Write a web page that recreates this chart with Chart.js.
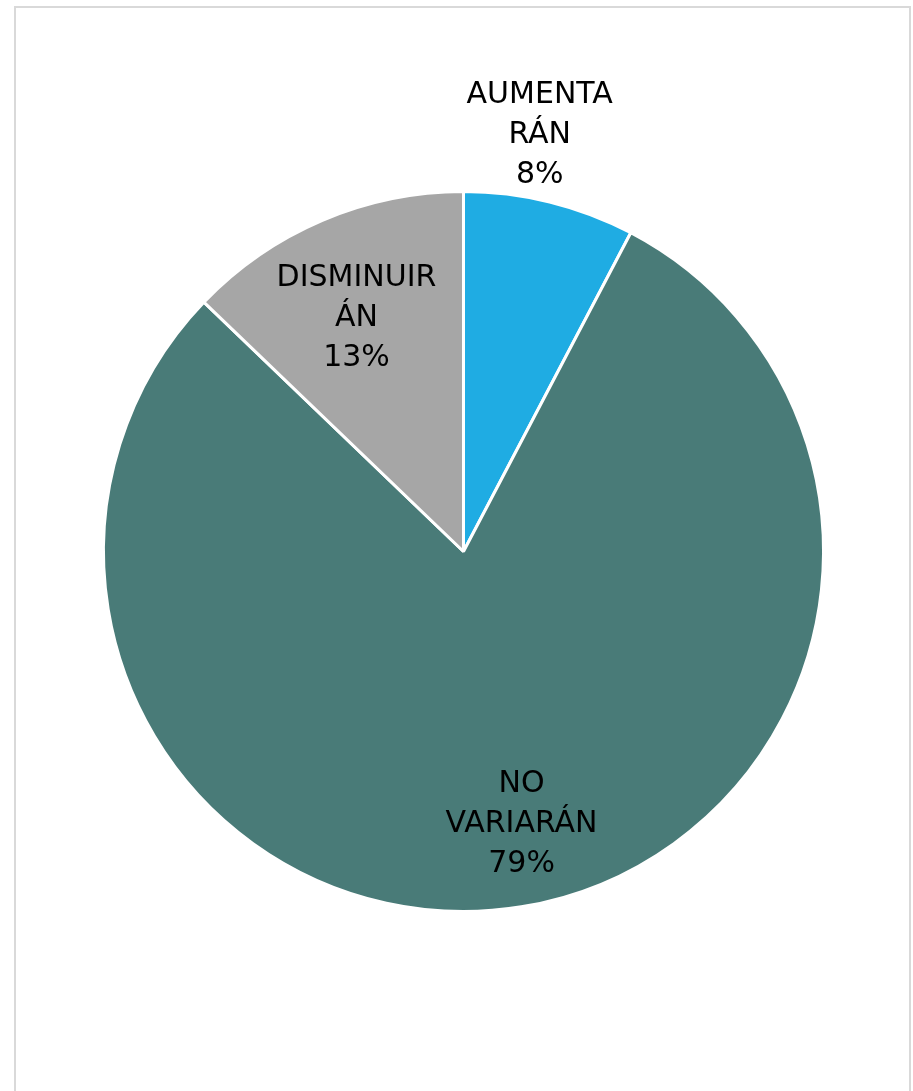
<!DOCTYPE html>
<html>
<head>
<meta charset="utf-8">
<script src="https://cdn.jsdelivr.net/npm/chart.js@4/dist/chart.umd.min.js"></script>
<style>
  html, body { margin: 0; padding: 0; background: #ffffff; }
  #wrap { position: relative; width: 913px; height: 1091px; }
</style>
</head>
<body>
<div id="wrap"><canvas id="c" width="913" height="1091"></canvas></div>
<script>
const categories = ["AUMENTARÁN", "NO VARIARÁN", "DISMINUIRÁN"];
const values = [6, 62, 10];
const labelLines = [["AUMENTA", "RÁN"], ["NO", "VARIARÁN"], ["DISMINUIR", "ÁN"]];
const colors = ["#1FACE3", "#497B78", "#A6A6A6"];

const frame = {
  id: "frame",
  beforeDraw(chart) {
    const ctx = chart.ctx;
    ctx.save();
    ctx.fillStyle = "#ffffff";
    ctx.fillRect(0, 0, chart.width, chart.height);
    ctx.strokeStyle = "#D9D9D9";
    ctx.lineWidth = 2;
    ctx.strokeRect(15, 7, 895, 1100);
    ctx.restore();
  }
};

// label placement: radial factor and pixel offset per slice
const labelPlacement = [
  { r: 1.14, dx: -22, dy: -18 },
  { r: 0.78, dx: 13, dy: -4 },
  { r: 0.73, dx: -4, dy: 8 }
];

const sliceLabels = {
  id: "sliceLabels",
  afterDatasetsDraw(chart) {
    const ctx = chart.ctx;
    const meta = chart.getDatasetMeta(0);
    const total = values.reduce((a, b) => a + b, 0);
    ctx.save();
    ctx.fillStyle = "#000000";
    ctx.font = "30px 'DejaVu Sans'";
    ctx.textAlign = "center";
    ctx.textBaseline = "middle";
    meta.data.forEach((arc, i) => {
      const p = arc.getProps(["x", "y", "startAngle", "endAngle", "outerRadius"], true);
      const mid = (p.startAngle + p.endAngle) / 2;
      const pl = labelPlacement[i];
      const cx = p.x + Math.cos(mid) * p.outerRadius * pl.r + pl.dx;
      const cy = p.y + Math.sin(mid) * p.outerRadius * pl.r + pl.dy;
      const lines = labelLines[i].concat([Math.round(values[i] / total * 100) + "%"]);
      const lh = 40;
      const y0 = cy - lh * (lines.length - 1) / 2;
      lines.forEach((t, k) => ctx.fillText(t, cx, y0 + k * lh));
    });
    ctx.restore();
  }
};

new Chart(document.getElementById("c"), {
  type: "pie",
  data: {
    labels: categories,
    datasets: [{
      data: values,
      backgroundColor: colors,
      borderColor: "#ffffff",
      borderWidth: 3
    }]
  },
  options: {
    responsive: false,
    animation: false,
    layout: { padding: { left: 102, right: 88, top: 190, bottom: 178 } },
    plugins: {
      legend: { display: false },
      tooltip: { enabled: false },
      title: { display: false }
    }
  },
  plugins: [frame, sliceLabels]
});
</script>
</body>
</html>
